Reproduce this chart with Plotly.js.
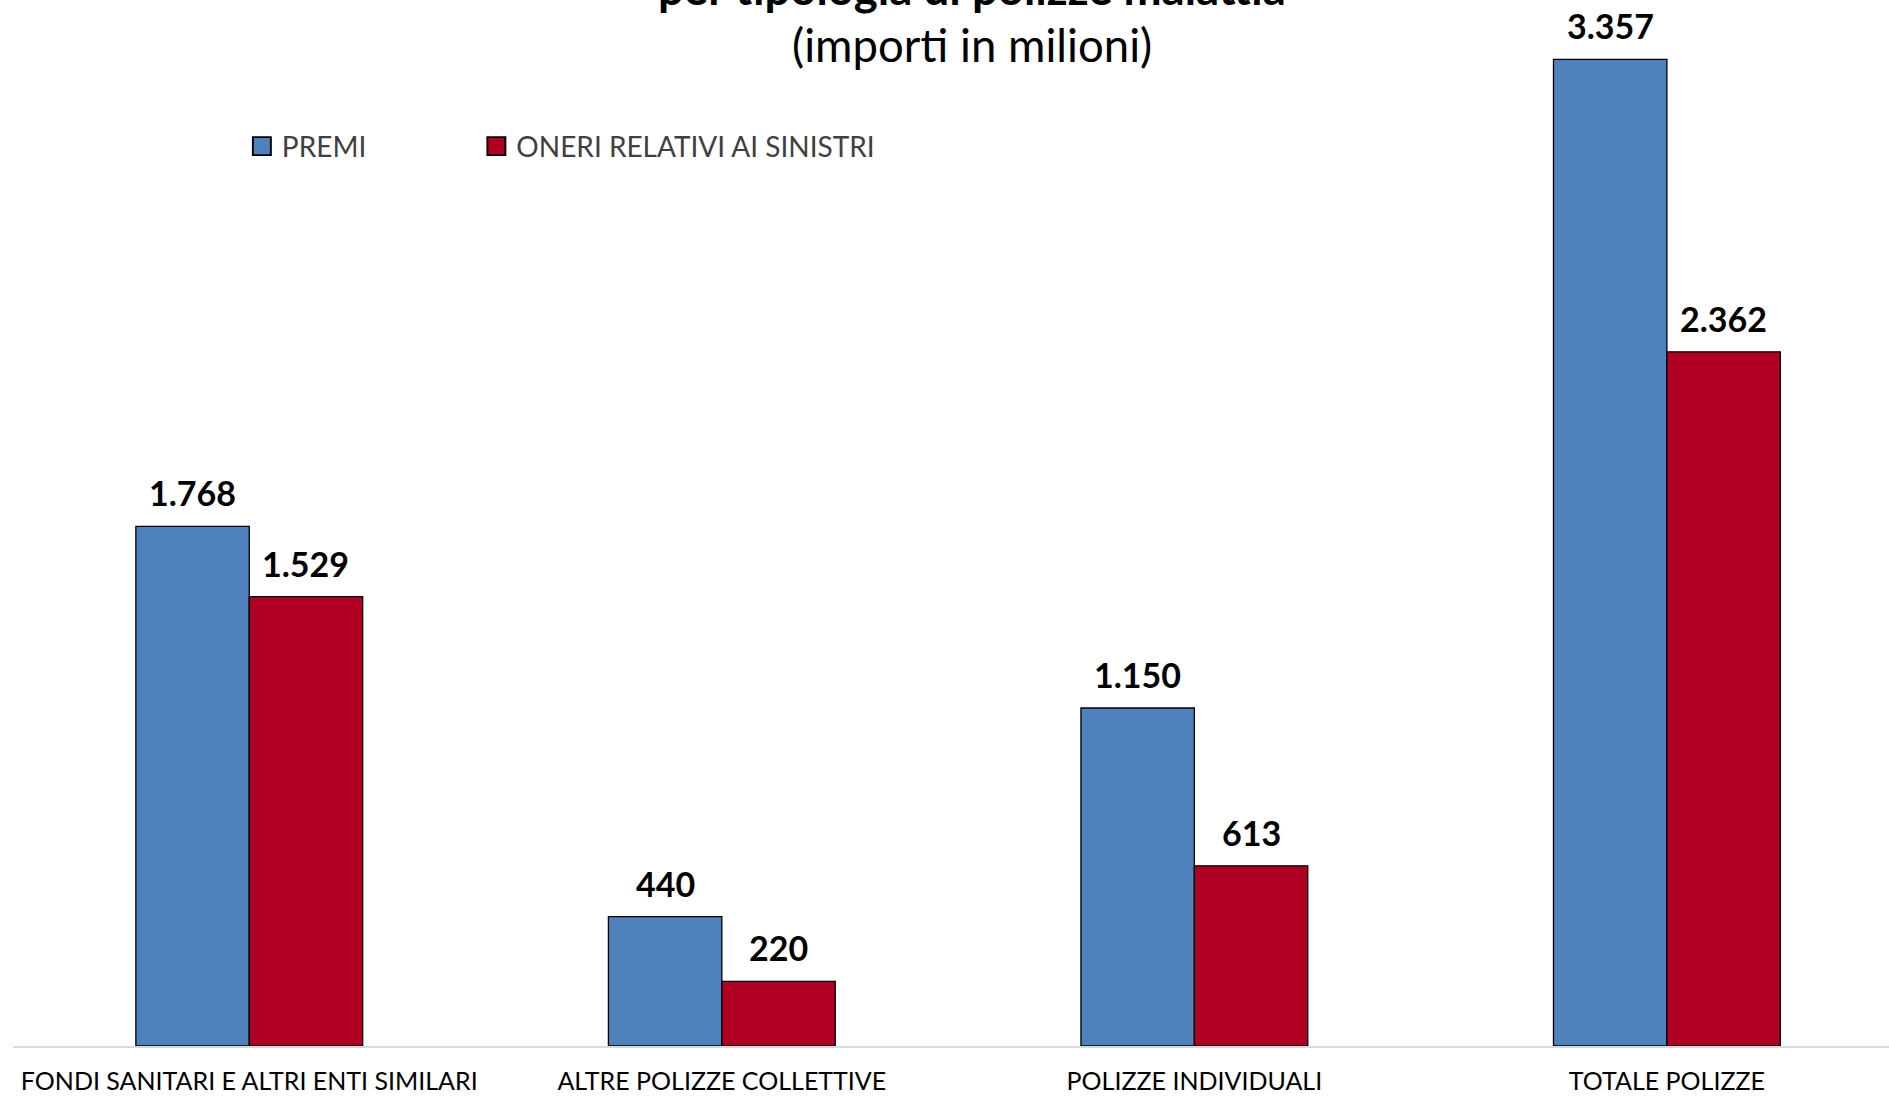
<!DOCTYPE html>
<html><head><meta charset="utf-8">
<script src="https://cdn.plot.ly/plotly-3.0.1.min.js"></script>
<style>html,body{margin:0;padding:0;background:#fff}#chart{width:1889px;height:1097px}</style>
</head><body><div id="chart"></div>
<script>
const categories = ["FONDI SANITARI E ALTRI ENTI SIMILARI", "ALTRE POLIZZE COLLETTIVE", "POLIZZE INDIVIDUALI", "TOTALE POLIZZE"];
const premi = [1768, 440, 1150, 3357];
const oneri = [1529, 220, 613, 2362];
const seriesNames = ["PREMI", "ONERI RELATIVI AI SINISTRI"];
const titleLine1 = "per tipologia di polizze malattia";
const titleLine2 = "(importi in milioni)";

function fmt(v){ return String(v).replace(/\B(?=(\d{3})+(?!\d))/g, "."); }

const FONT = "Lato, 'Open Sans', sans-serif";
const traces = [
  {type:"bar", name:seriesNames[0], x:categories, y:premi, legend:"legend",
   marker:{color:"#4F81BD", line:{color:"#000000", width:1.3}}, hoverinfo:"skip"},
  {type:"bar", name:seriesNames[1], x:categories, y:oneri, legend:"legend2",
   marker:{color:"#B00023", line:{color:"#000000", width:1.3}}, hoverinfo:"skip"}
];

const annotations = [];
const shift = 56.7;
categories.forEach((c,i)=>{
  annotations.push({x:c, y:premi[i], xref:"x", yref:"y", text:fmt(premi[i]), showarrow:false,
    xshift:-shift, yanchor:"bottom", yshift:11, font:{family:FONT, size:34, color:"#000", weight:"bold"}});
  annotations.push({x:c, y:oneri[i], xref:"x", yref:"y", text:fmt(oneri[i]), showarrow:false,
    xshift:shift, yanchor:"bottom", yshift:11, font:{family:FONT, size:34, color:"#000", weight:"bold"}});
});
annotations.push({x:0.511, y:1.0, xref:"paper", yref:"paper", yshift:13, text:"<b>"+titleLine1+"</b>", showarrow:false,
  yanchor:"middle", font:{family:FONT, size:45.5, color:"#000"}});
annotations.push({x:0.511, y:0.957, xref:"paper", yref:"paper", text:titleLine2, showarrow:false,
  yanchor:"middle", font:{family:FONT, size:45.5, color:"#000"}});

const legendCommon = {orientation:"h", yanchor:"middle", xanchor:"left", y:0.86, itemwidth:30,
  font:{family:FONT, size:28, color:"#404040"}, bgcolor:"rgba(0,0,0,0)"};
const layout = {
  width:1889, height:1097,
  margin:{l:13, r:0, t:0, b:51},
  paper_bgcolor:"#fff", plot_bgcolor:"#fff",
  barmode:"group", bargap:0.52, bargroupgap:0,
  font:{family:FONT, color:"#000"},
  showlegend:true,
  legend:Object.assign({}, legendCommon, {x:0.122}),
  legend2:Object.assign({}, legendCommon, {x:0.247}),
  xaxis:{type:"category", range:[-0.5, 3.47], showline:true, linecolor:"#D9D9D9", linewidth:2,
    ticks:"", showgrid:false, zeroline:false, tickfont:{family:FONT, size:25, color:"#000"},
    ticklabelstandoff:12, fixedrange:true},
  yaxis:{range:[0, 3559], visible:false, showgrid:false, zeroline:false, fixedrange:true},
  annotations:annotations
};
Plotly.newPlot("chart", traces, layout, {displayModeBar:false, staticPlot:true}).then(gd=>{
  gd.querySelectorAll(".legendpoints path").forEach(p=>{
    const t = p.getAttribute("transform") || "";
    p.setAttribute("transform", t + " scale(1.5)");
  });
});
</script></body></html>
